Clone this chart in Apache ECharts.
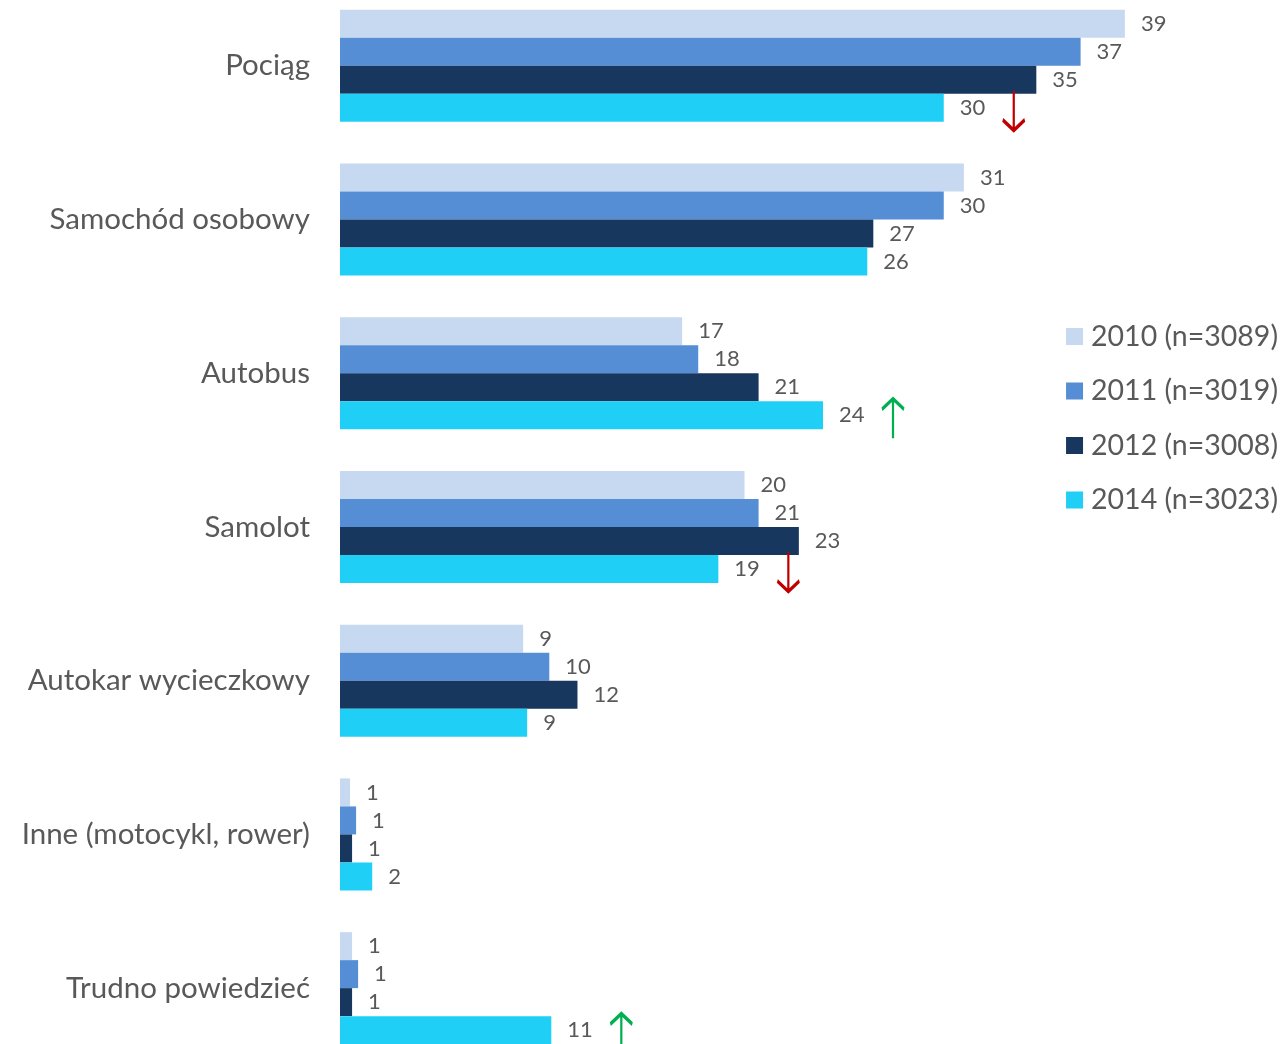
<!DOCTYPE html>
<html>
<head>
<meta charset="utf-8">
<script src="https://cdn.jsdelivr.net/npm/echarts@6/dist/echarts.min.js"></script>
<style>
html,body{margin:0;padding:0;background:#fff;}
#main{width:1283px;height:1044px;}
</style>
</head>
<body>
<div id="main"></div>
<script>
const categories = ['Pociąg', 'Samochód osobowy', 'Autobus', 'Samolot', 'Autokar wycieczkowy', 'Inne (motocykl, rower)', 'Trudno powiedzieć'];
const seriesNames = ['2010 (n=3089)', '2011 (n=3019)', '2012 (n=3008)', '2014 (n=3023)'];
const values2010 = [39, 31, 17, 20.1, 9.1, 0.5, 0.6];
const values2011 = [36.8, 30, 17.8, 20.8, 10.4, 0.8, 0.9];
const values2012 = [34.6, 26.5, 20.8, 22.8, 11.8, 0.6, 0.6];
const values2014 = [30, 26.2, 24, 18.8, 9.3, 1.6, 10.5];
// significant changes in 2014: category index -> 'down' | 'up'
const changes2014 = [[0, 'down'], [2, 'up'], [3, 'down'], [6, 'up']];

const colors = ['#C6D9F1', '#558ED5', '#17375E', '#1FCFF5'];
const textColor = '#595959';
const FONT = 'Lato';

const downArrow = 'path://M11,0 L11,40 M1,29 L11,39.5 L21,29';
const upArrow = 'path://M11,40 L11,0 M1,11 L11,0.5 L21,11';

const allValues = [values2010, values2011, values2012, values2014];

const chart = echarts.init(document.getElementById('main'));
const series = allValues.map((vals, i) => {
  const s = {
    name: seriesNames[i],
    type: 'bar',
    data: vals,
    barWidth: 28,
    barGap: '0%',
    itemStyle: { color: colors[i] },
    label: {
      show: true,
      position: 'right',
      distance: 16,
      color: textColor,
      fontFamily: FONT,
      fontSize: 22,
      formatter: p => Math.round(p.value)
    }
  };
  if (i === 3) {
    s.markPoint = {
      silent: true,
      label: { show: false },
      data: changes2014.map(([ci, dir]) => ({
        coord: [vals[ci], categories[ci]],
        symbol: dir === 'down' ? downArrow : upArrow,
        symbolSize: [22, 40],
        symbolKeepAspect: false,
        symbolOffset: [70, 3],
        itemStyle: {
          color: 'rgba(0,0,0,0)',
          borderColor: dir === 'down' ? '#C00000' : '#00B050',
          borderWidth: 3
        }
      }))
    };
  }
  return s;
});

chart.setOption({
  animation: false,
  backgroundColor: '#fff',
  grid: { left: 340, right: 138, top: -11, height: 1076, containLabel: false, outerBoundsMode: 'none' },
  xAxis: {
    type: 'value', min: 0, max: 40,
    show: false
  },
  yAxis: {
    type: 'category',
    data: categories,
    inverse: true,
    axisLine: { show: false },
    axisTick: { show: false },
    axisLabel: { color: textColor, fontFamily: FONT, fontSize: 29.5, margin: 30 }
  },
  legend: {
    orient: 'vertical',
    right: 0,
    top: 317,
    itemWidth: 17,
    itemHeight: 17,
    itemGap: 25.5,
    icon: 'rect',
    textStyle: { color: textColor, fontFamily: FONT, fontSize: 28.5, padding: [0, 0, 0, 3] },
    data: seriesNames
  },
  series: series
});
</script>
</body>
</html>
